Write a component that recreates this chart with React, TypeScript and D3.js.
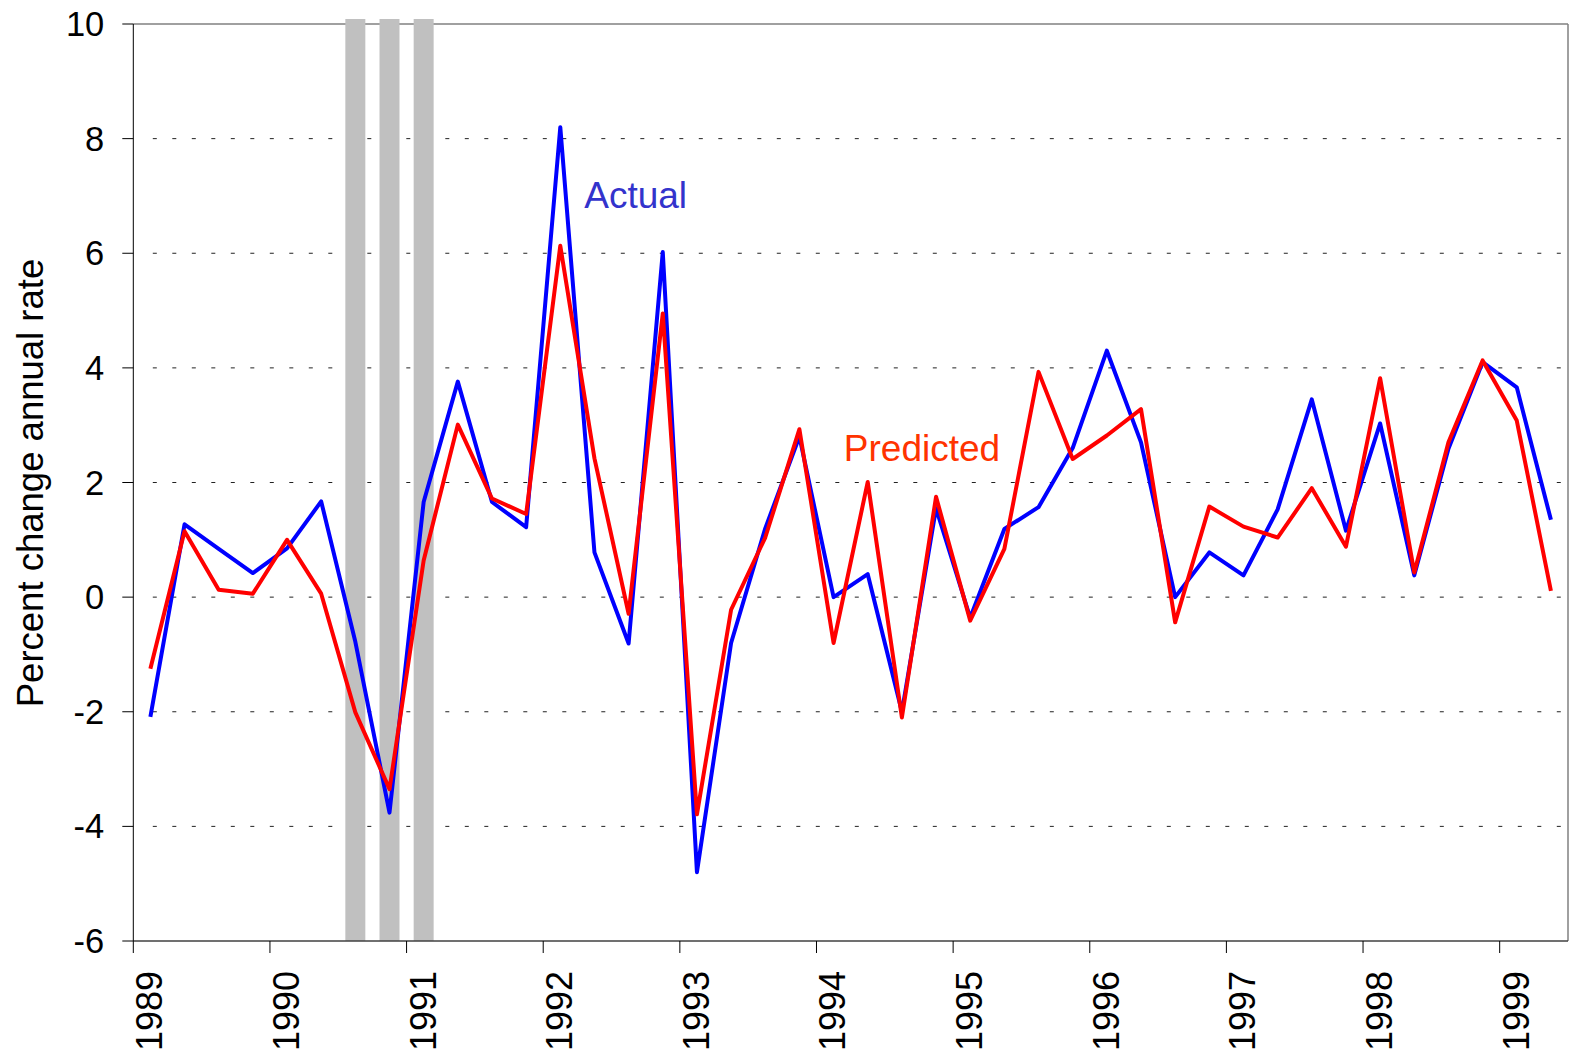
import * as d3 from 'd3';
import React from 'react';

// quarterly GDP-style series, 1989Q1 .. 1999Q2
const years = d3.range(1989, 2000);
const quarters = d3.range(42).map((i) => `${1989 + Math.floor(i / 4)}Q${(i % 4) + 1}`);

const actual = [
  -2.09, 1.27, 0.84, 0.42, 0.85, 1.67, -0.78, -3.76, 1.66, 3.76, 1.66, 1.22,
  8.2, 0.78, -0.81, 6.02, -4.8, -0.8, 1.2, 2.8, 0.0, 0.4, -2.0, 1.55,
  -0.36, 1.19, 1.57, 2.6, 4.3, 2.7, 0.0, 0.78, 0.38, 1.53, 3.45, 1.16,
  3.03, 0.38, 2.59, 4.1, 3.66, 1.35,
];

const predicted = [
  -1.25, 1.15, 0.13, 0.06, 1.0, 0.06, -2.01, -3.35, 0.64, 3.01, 1.72, 1.45,
  6.13, 2.42, -0.29, 4.95, -3.79, -0.22, 1.04, 2.93, -0.8, 2.01, -2.1, 1.75,
  -0.41, 0.84, 3.93, 2.41, 2.82, 3.28, -0.44, 1.58, 1.23, 1.04, 1.9, 0.88,
  3.82, 0.43, 2.7, 4.13, 3.08, 0.11,
];

const recessionQuarters = ['1990Q3', '1990Q4', '1991Q1'];

const yTicks = [-6, -4, -2, 0, 2, 4, 6, 8, 10];
const gridTicks = [-4, -2, 0, 2, 4, 6, 8];

const W = 1571;
const H = 1052;
const margin = { top: 24, right: 3, bottom: 111, left: 133.3 };
const font = '"Liberation Sans", Arial, Helvetica, sans-serif';

const quarterTime = (q: string) => {
  const yr = +q.slice(0, 4);
  const n = +q.slice(5);
  return yr + (n - 0.5) / 4;
};

export default function App() {
  const left = margin.left;
  const right = W - margin.right;
  const top = margin.top;
  const bottom = H - margin.bottom;

  const x = d3.scaleLinear().domain([1989, 1999.5]).range([left, right]);
  const y = d3.scaleLinear().domain([-6, 10]).range([bottom, top]);

  const line = d3
    .line<number>()
    .x((_, i) => x(quarterTime(quarters[i])))
    .y((d) => y(d));

  const barW = (x(1989.25) - x(1989)) * 0.585;

  return (
    <svg
      width={W}
      height={H}
      style={{ position: 'absolute', left: 0, top: 0, background: '#fff' }}
      fontFamily={font}
    >
      {/* dotted grid */}
      {gridTicks.map((t) => (
        <line
          key={`g${t}`}
          x1={left + 19.5}
          x2={right}
          y1={y(t)}
          y2={y(t)}
          stroke="#222"
          strokeWidth={1}
          strokeDasharray="4 15.5"
        />
      ))}

      {/* frame */}
      <line x1={left} x2={right} y1={top} y2={top} stroke="#808080" strokeWidth={1.5} />
      <line x1={right} x2={right} y1={top} y2={bottom} stroke="#808080" strokeWidth={1.5} />

      {/* recession bars */}
      {recessionQuarters.map((q) => (
        <rect
          key={q}
          x={x(quarterTime(q)) - barW / 2}
          y={top - 5}
          width={barW}
          height={bottom - top + 5}
          fill="#c0c0c0"
        />
      ))}

      {/* axes */}
      <line x1={left} x2={right} y1={bottom} y2={bottom} stroke="#404040" strokeWidth={1.5} />
      <line x1={left} x2={left} y1={top} y2={bottom} stroke="#000" strokeWidth={1} />

      {yTicks.map((t) => (
        <g key={`y${t}`}>
          <line x1={left - 11} x2={left} y1={y(t)} y2={y(t)} stroke="#000" strokeWidth={1} />
          <text x={left - 29} y={y(t) + 12} textAnchor="end" fontSize={34.5} fill="#000">
            {t}
          </text>
        </g>
      ))}

      {years.map((yr) => (
        <g key={`x${yr}`}>
          <line x1={x(yr)} x2={x(yr)} y1={bottom} y2={bottom + 12} stroke="#000" strokeWidth={1} />
          <text
            transform={`translate(${x(yr) + 29},${bottom + 30}) rotate(-90)`}
            textAnchor="end"
            fontSize={36}
            fill="#000"
          >
            {yr}
          </text>
        </g>
      ))}

      <text
        transform={`translate(43,${483}) rotate(-90)`}
        textAnchor="middle"
        fontSize={36.5}
        fill="#000"
      >
        Percent change annual rate
      </text>

      {/* series */}
      <path
        d={line(actual) ?? ''}
        fill="none"
        stroke="#0000ff"
        strokeWidth={4}
        strokeLinejoin="round"
      />
      <path
        d={line(predicted) ?? ''}
        fill="none"
        stroke="#ff0000"
        strokeWidth={4}
        strokeLinejoin="round"
      />

      <text x={x(1992.3)} y={y(6.79)} fontSize={37} fill="#3333cc">
        Actual
      </text>
      <text x={x(1994.2)} y={y(2.38)} fontSize={37} fill="#ff3300">
        Predicted
      </text>
    </svg>
  );
}
